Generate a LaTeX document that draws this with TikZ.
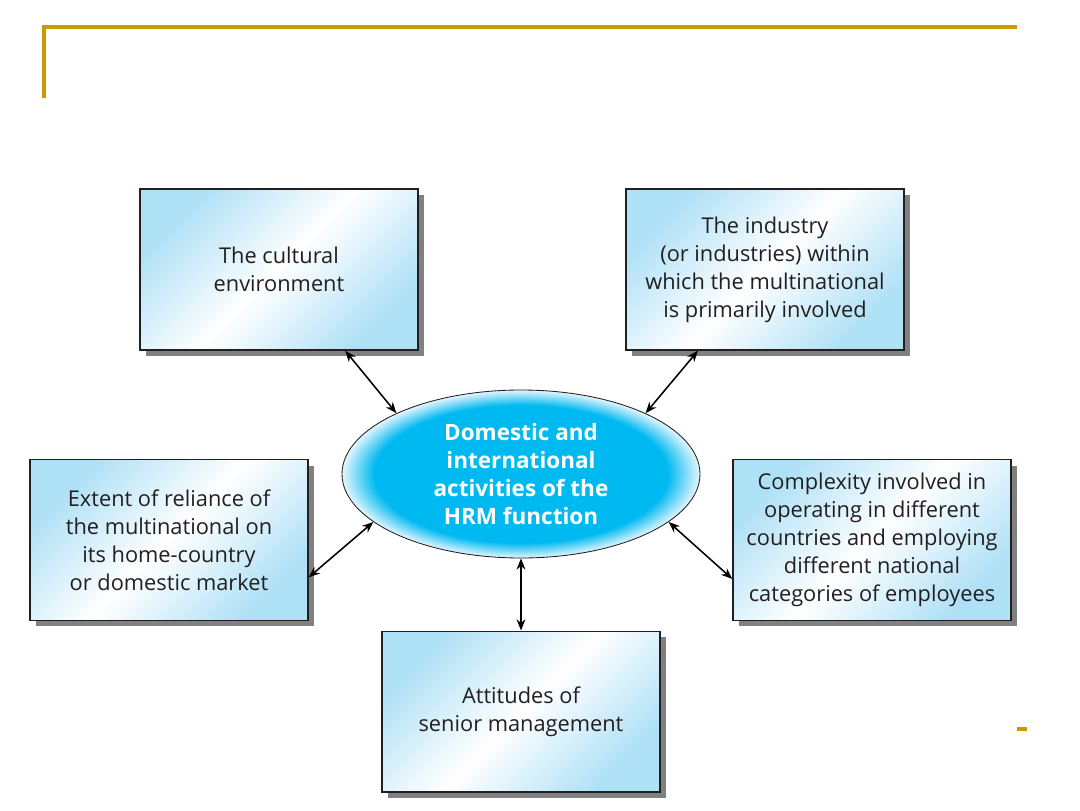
\documentclass[tikz,border=0pt]{standalone}
\usepackage{fontspec}
\setmainfont{Open Sans}
\usetikzlibrary{arrows.meta, positioning, shapes.geometric, calc, shadows}
\definecolor{cgold}{HTML}{CC9900}
\definecolor{ccyan}{HTML}{00B9F1}
\definecolor{cpale}{HTML}{E4F6FD}
\definecolor{csky}{HTML}{AEE0F6}
\definecolor{cink}{HTML}{231F20}
\definecolor{cshadow}{HTML}{808080}
\pgfdeclareradialshading{hrmglow}{\pgfpoint{0bp}{0bp}}{color(0bp)=(ccyan); color(20.5bp)=(ccyan); color(25bp)=(cpale); color(50bp)=(cpale)}
\tikzset{
  every picture/.style={font=\fontsize{15.5}{20}\selectfont, line width=0.8pt},
  factor/.style={draw=cink, line width=1pt, shading=axis, top color=csky, bottom color=csky, middle color=white, shading angle=45,
    minimum width=6.95cm, minimum height=4.02cm, align=center, text=cink,
    drop shadow={shadow xshift=0.15cm, shadow yshift=-0.15cm, fill=cshadow, opacity=1}},
  link/.style={{Stealth[length=2.8mm, width=2.2mm]}-{Stealth[length=2.8mm, width=2.2mm]}, draw=black, line width=1.1pt},
  rule/.style={draw=cgold, line width=2.2pt},
}
\begin{document}
\begin{tikzpicture}
  \useasboundingbox (0, 0) rectangle (27, 20.25);
  % slide frame
  \coordinate (fa) at (1.1, 17.8);
  \coordinate (fb) at (1.1, 19.575);
  \coordinate (fc) at (25.425, 19.575);
  \draw[rule] (fa) -- (fb) -- (fc);
  \coordinate (da) at (25.425, 2.025);
  \coordinate (db) at (25.675, 2.025);
  \draw[rule] (da) -- (db);
  % centre
  \node[ellipse, draw=cink, line width=0.6pt, shading=hrmglow, minimum width=8.95cm, minimum height=4.2cm,
    align=center, text=white, font=\fontsize{16}{20}\selectfont\bfseries] (hrm) at (13.025, 8.4)
    {Domestic and\\international\\activities of the\\HRM function};
  % five factors
  \node[factor] (cult) at (6.975, 13.51) {The cultural\\environment};
  \node[factor] (ind) at (19.125, 13.51) {The industry\\(or industries) within\\which the multinational\\is primarily involved};
  \node[factor] (home) at (4.225, 6.75) {Extent of reliance of\\the multinational on\\its home-country\\or domestic market};
  \node[factor] (cplx) at (21.8, 6.75) {Complexity involved in\\operating in different\\countries and employing\\different national\\categories of employees};
  \node[factor] (att) at (13.025, 2.46) {Attitudes of\\senior management};
  % links
  \coordinate (c1) at ($(cult.south west)!0.737!(cult.south east)$);
  \coordinate (c2) at ($(ind.south west)!0.26!(ind.south east)$);
  \coordinate (c3) at ($(home.north east)!0.73!(home.south east)$);
  \coordinate (c4) at ($(cplx.north west)!0.74!(cplx.south west)$);
  \draw[link] (c1) -- (hrm.154);
  \draw[link] (c2) -- (hrm.26);
  \draw[link] (c3) -- (hrm.198);
  \draw[link] (c4) -- (hrm.-18);
  \draw[link] (att.north) -- (hrm.south);
\end{tikzpicture}
\end{document}
